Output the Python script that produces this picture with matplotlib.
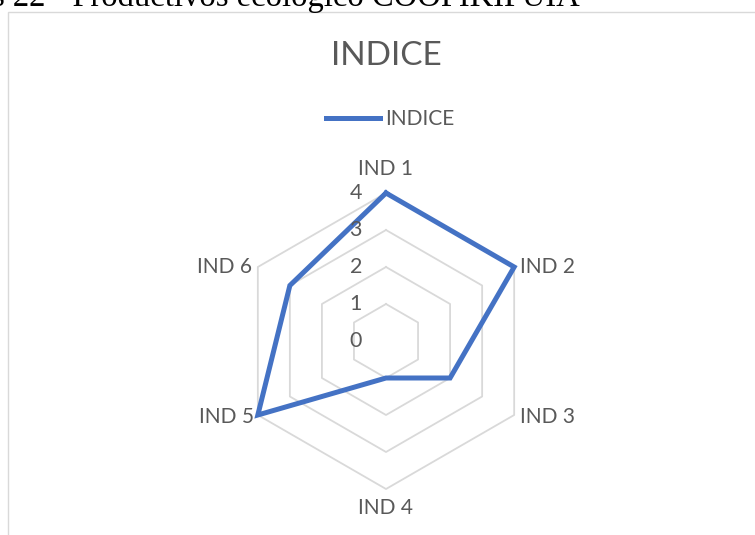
import numpy as np
import matplotlib.pyplot as plt
from matplotlib.patches import Rectangle

# radar data
categories = ['IND 1', 'IND 2', 'IND 3', 'IND 4', 'IND 5', 'IND 6']
indice = [4, 4, 2, 1, 4, 3]
r_ticks = [0, 1, 2, 3, 4]
series_name = 'INDICE'
chart_title = 'INDICE'
caption = 's 22 - Productivos ecológico COOPIKIPUIA'

W, H = 755, 535
GREY_TXT = '#595959'
GRID = '#D9D9D9'
BLUE = '#4472C4'
FONT = 'Lato'

fig = plt.figure(figsize=(W / 100, H / 100), dpi=100)

# chart frame, only the top-left corner is inside the picture
fig.add_artist(Rectangle((7.5 / W, -0.2), 1.5, 1.2 - 12 / H, fill=False,
                         ec=GRID, lw=1.0, transform=fig.transFigure))

fig.text(-8 / W, 1 - 6 / H, caption, ha='left', va='baseline',
         family='Liberation Serif', fontsize=23.5, color='black')

fig.text(386 / W, 1 - 56 / H, chart_title, ha='center', va='center',
         family=FONT, fontsize=24, color=GREY_TXT)

cx, cy, R = 386, 341, 148
ax = fig.add_axes([(cx - R) / W, (H - cy - R) / H, 2 * R / W, 2 * R / H],
                  projection='polar')
ax.set_theta_offset(np.pi / 2)
ax.set_theta_direction(-1)
ax.set_ylim(0, max(r_ticks))
ax.set_axis_off()

n = len(categories)
angles = [i * 2 * np.pi / n for i in range(n)]
closed = angles + angles[:1]

# hexagonal grid rings
for r in r_ticks[1:]:
    ax.plot(closed, [r] * (n + 1), color=GRID, lw=1.3, zorder=1, clip_on=False)

ax.plot(closed, indice + indice[:1], color=BLUE, lw=3.6, zorder=3,
        solid_joinstyle='miter', clip_on=False, label=series_name)

# radial value labels along the first spoke
for r in r_ticks:
    ax.annotate(str(r), xy=(0, r), xytext=(-24, 0), textcoords='offset pixels',
                ha='right', va='center', family=FONT, fontsize=15.5,
                color=GREY_TXT, annotation_clip=False)

# category labels just outside the outer ring
offsets = [(0, 24, 'center'), (6, 0, 'left'), (6, -2, 'left'),
           (0, -19, 'center'), (-4, -2, 'right'), (-6, 0, 'right')]
top = max(r_ticks)
for ang, name, (dx, dy, ha) in zip(angles, categories, offsets):
    ax.annotate(name, xy=(ang, top), xytext=(dx, dy), textcoords='offset pixels',
                ha=ha, va='center', family=FONT, fontsize=15,
                color=GREY_TXT, annotation_clip=False)

fig.legend(loc='center', bbox_to_anchor=(390 / W, 1 - 119 / H), frameon=False,
           prop={'family': FONT, 'size': 15}, labelcolor=GREY_TXT,
           handlelength=2.6, handletextpad=0.25)

fig.savefig('out.png', dpi=100)
